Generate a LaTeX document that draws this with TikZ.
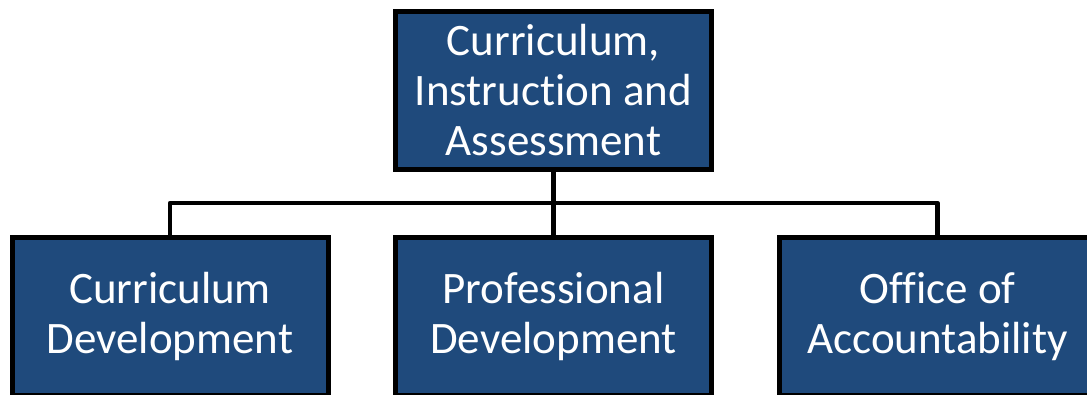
\documentclass[tikz,border=0pt]{standalone}
\usepackage{fontspec}
\setmainfont[Ligatures=NoCommon]{Carlito}
\usepackage{xcolor}
\usetikzlibrary{positioning}
\definecolor{boxblue}{HTML}{1F4A7C}

\begin{document}
\begin{tikzpicture}[x=1pt,y=1pt,
	unitbox/.style={draw=black, line width=5pt, fill=boxblue, text=white, align=center,
		minimum width=316pt, minimum height=158pt, inner sep=0pt,
		font=\fontsize{45}{50}\selectfont},
	link/.style={draw=black, line width=4.5pt, line join=round}]
	% page frame
	\useasboundingbox (0,0) rectangle (1087,394);
	\clip (0,0) rectangle (1087,394);
	% draw boxes
	\node[unitbox] (cia) at (553.5,303.5) {Curriculum,\\Instruction and\\Assessment};
	\node[unitbox] (pd) at (553.5,77.5) {Professional\\Development};
	\node[unitbox] (cd) at (170,77.5) {Curriculum\\Development};
	\node[unitbox] (oa) at (937.5,77.5) {Office of\\Accountability};
	% draw links
	\coordinate (bus) at (0,191);
	\draw[link] (cia.south) -- (pd.north);
	\draw[link] (cd.north) -- (cd.north |- bus) -- (oa.north |- bus) -- (oa.north);
\end{tikzpicture}
\end{document}
